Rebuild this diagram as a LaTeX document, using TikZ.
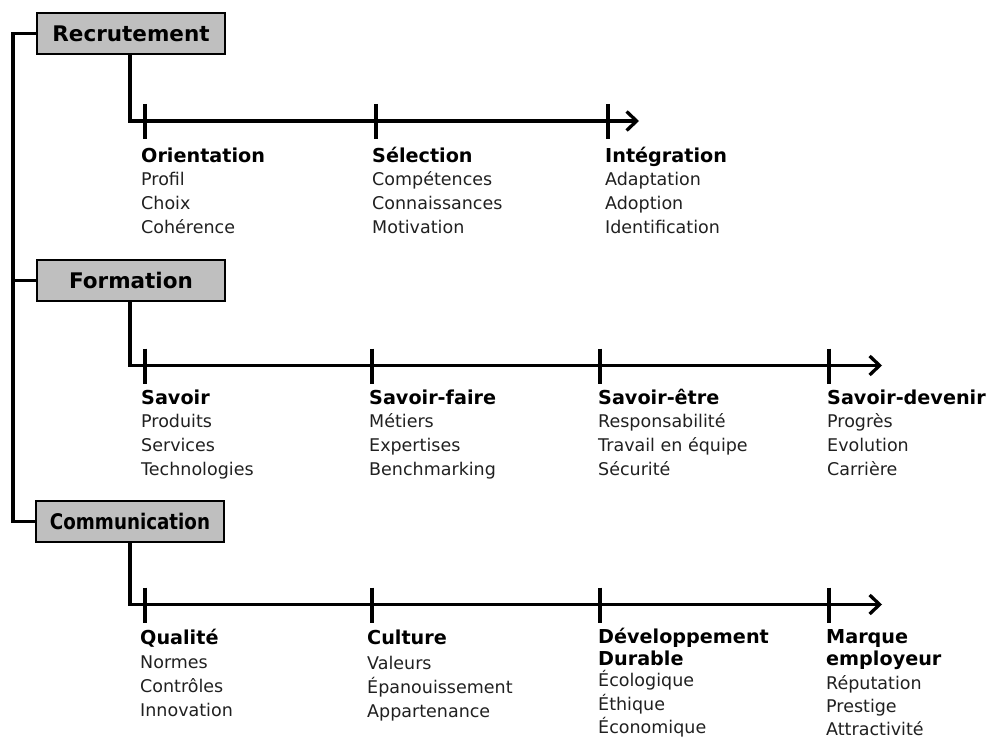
\documentclass[tikz,border=0pt]{standalone}
\usepackage{fontspec}
\setmainfont{DejaVu Sans}
\usetikzlibrary{arrows.meta}
\definecolor{boxgray}{HTML}{BFBFBF}
\definecolor{bodygray}{HTML}{202020}
\newcommand\hdline[1]{{\color{black}\fontsize{19.2}{23}\selectfont\bfseries\rule{0pt}{20pt}#1}}
\newcommand\hdplain[1]{{\color{black}\fontsize{19.2}{23}\selectfont\bfseries #1}}
\begin{document}
\begin{tikzpicture}[x=1pt,y=-1pt]
\useasboundingbox (0,0) rectangle (988,738);
\tikzset{
  catbox/.style={draw, fill=boxgray, line width=2.5pt, minimum width=188pt, minimum height=41pt, inner sep=0pt, font=\fontsize{21.5}{24}\selectfont\bfseries},
  colitem/.style={anchor=north west, align=left, inner sep=0pt, font=\fontsize{17.5}{24}\selectfont, text=bodygray},
  axisline/.style={line width=3.3pt, -{Straight Barb[length=10pt,width=19pt,line width=3.3pt]}},
  link/.style={line width=3.3pt},
  tickmark/.style={line width=3.3pt}
}
% boxes
\node[catbox] (rec) at (131,33.5) {Recrutement};
\node[catbox] (for) at (131,280.5) {Formation};
\node[catbox] (com) at (130,521.5) {\scalebox{0.85}[1]{Communication}};
% spine
\coordinate (spine) at (13,0);
\draw[link, line join=miter] (rec.west) -- (rec.west -| spine) -- (com.west -| spine) -- (com.west);
\draw[link] (for.west) -- (for.west -| spine);
% axes
\coordinate (a1) at (130,121);
\coordinate (e1) at (639,121);
\coordinate (a2) at (130,365.5);
\coordinate (e2) at (882,365.5);
\coordinate (a3) at (130,604.5);
\coordinate (e3) at (882,604.5);
\draw[axisline, line join=miter] (rec.south -| a1) -- (a1) -- (e1);
\draw[axisline, line join=miter] (for.south -| a2) -- (a2) -- (e2);
\draw[axisline, line join=miter] (com.south -| a3) -- (a3) -- (e3);
% ticks
\foreach \n/\x/\y in {t11/145/121, t12/376/121, t13/608/121,
                      t21/145/365.5, t22/372/365.5, t23/600/365.5, t24/829/365.5,
                      t31/145/604.5, t32/372/604.5, t33/600/604.5, t34/829/604.5}{
  \coordinate (\n) at (\x,\y);
  \draw[tickmark] ([yshift=17pt]\n) -- ([yshift=-18pt]\n);
}
% Recrutement columns (heading baseline 162)
\node[colitem] (c11) at (141,142) {\hdline{Orientation}\\[-1pt]Profil\\Choix\\Cohérence};
\node[colitem] (c12) at (372,142) {\hdline{Sélection}\\[-1pt]Compétences\\Connaissances\\Motivation};
\node[colitem] (c13) at (605,142) {\hdline{Intégration}\\[-1pt]Adaptation\\Adoption\\Identification};
% Formation columns (heading baseline 404)
\node[colitem] (c21) at (141,384) {\hdline{Savoir}\\[-1pt]Produits\\Services\\Technologies};
\node[colitem] (c22) at (369,384) {\hdline{Savoir-faire}\\[-1pt]Métiers\\Expertises\\Benchmarking};
\node[colitem] (c23) at (598,384) {\hdline{Savoir-être}\\[-1pt]Responsabilité\\Travail en équipe\\Sécurité};
\node[colitem] (c24) at (827,384) {\hdline{Savoir-devenir}\\[-1pt]Progrès\\Evolution\\Carrière};
% Communication columns (heading baseline 644)
\node[colitem] (c31) at (140,624) {\hdline{Qualité}\\[0pt]Normes\\Contrôles\\Innovation};
\node[colitem] (c32) at (367,624) {\hdline{Culture}\\[1pt]Valeurs\\Épanouissement\\Appartenance};
\node[colitem] (c33) at (598,623) {\hdline{Développement}\\[-2pt]\hdplain{Durable}\\[-3pt]Écologique\\[0pt]Éthique\\[-1pt]Économique};
\node[colitem] (c34) at (826,623) {\hdline{Marque}\\[-2pt]\hdplain{employeur}\\[0pt]Réputation\\[-1pt]Prestige\\[-1pt]Attractivité};
\end{tikzpicture}
\end{document}
